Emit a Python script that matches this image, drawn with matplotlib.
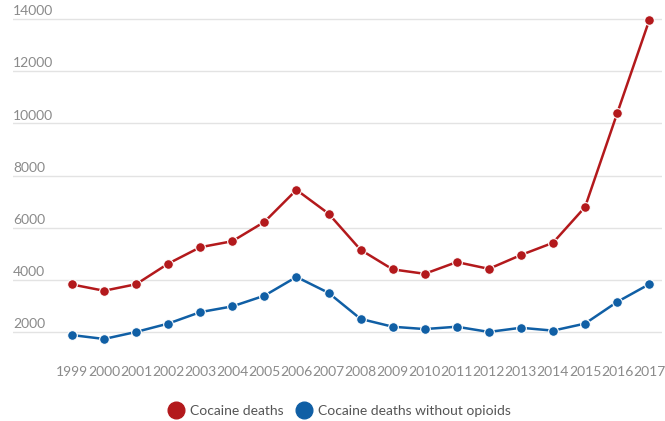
import matplotlib.pyplot as plt
from matplotlib.lines import Line2D

years = list(range(1999, 2018))
cocaine_deaths = [3820, 3580, 3830, 4620, 5250, 5480, 6220, 7450, 6540, 5150,
                  4400, 4230, 4680, 4420, 4950, 5420, 6790, 10380, 13950]
cocaine_no_opioids = [1880, 1730, 2000, 2320, 2760, 2980, 3390, 4110, 3500, 2500,
                      2200, 2110, 2200, 2000, 2160, 2050, 2320, 3150, 3830]
y_ticks = [2000, 4000, 6000, 8000, 10000, 12000, 14000]

red = '#b3191c'
blue = '#105fa5'
plt.rcParams['font.family'] = ['Lato', 'DejaVu Sans']

fig = plt.figure(figsize=(6.65, 4.21), dpi=100)
ax = fig.add_axes([13 / 665, 63 / 421, 649 / 665, 348 / 421])

# gridlines with labels sitting on top, left aligned
for v in y_ticks:
    ax.axhline(v, color='#e3e3e3', linewidth=1, zorder=0)
    ax.text(0, v + 70, str(v), transform=ax.get_yaxis_transform(),
            ha='left', va='bottom', fontsize=10, color='#8a8a8a')

ax.plot(years, cocaine_deaths, color=red, linewidth=1.8, marker='o',
        markersize=7, markeredgecolor='white', markeredgewidth=0.8, zorder=3)
ax.plot(years, cocaine_no_opioids, color=blue, linewidth=1.8, marker='o',
        markersize=7, markeredgecolor='white', markeredgewidth=0.8, zorder=3)

ax.set_xlim(1997.16, 2017.4)
ax.set_ylim(1000, 14350)
ax.set_xticks(years)
ax.set_xticklabels([str(y) for y in years], fontsize=10, color='#8a8a8a')
ax.tick_params(axis='x', length=0, pad=6)
ax.set_yticks([])
for s in ax.spines.values():
    s.set_visible(False)

handles = [Line2D([], [], linestyle='none', marker='o', markersize=12, color=red),
           Line2D([], [], linestyle='none', marker='o', markersize=12, color=blue)]
fig.legend(handles, ['Cocaine deaths', 'Cocaine deaths without opioids'],
           loc='center', bbox_to_anchor=(0.51, 1 - 411 / 421), ncol=2,
           frameon=False, fontsize=10, labelcolor='#555555',
           handletextpad=0.4, columnspacing=0.9, handlelength=1.2)

fig.savefig('out.png', dpi=100)
